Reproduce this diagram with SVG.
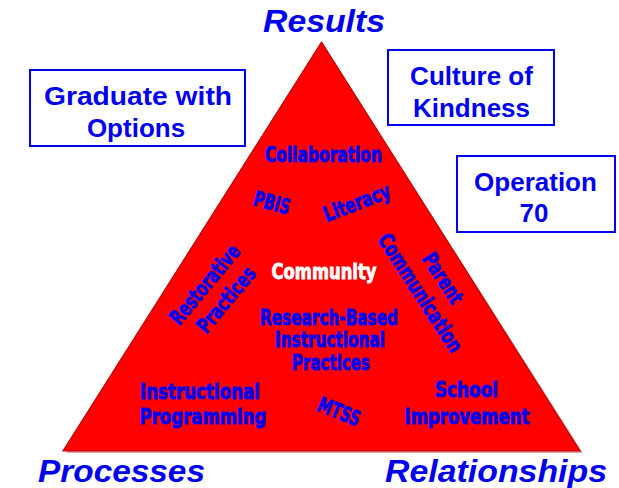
<svg xmlns="http://www.w3.org/2000/svg" width="619" height="488" viewBox="0 0 619 488">
<style>
.box{fill:#ffffff;stroke:#0000f0;stroke-width:2}
.bt{font-family:"Liberation Sans",Arial,sans-serif;font-weight:bold;font-size:26px;fill:#0000f0;text-anchor:middle}
.corner{font-family:"Liberation Sans",Arial,sans-serif;font-weight:bold;font-style:italic;font-size:31px;fill:#0000f0}
.in{font-family:"DejaVu Sans Condensed","Liberation Sans Narrow","Roboto Condensed",sans-serif;font-stretch:condensed;font-weight:bold;font-size:21px;fill:#0000f0;stroke:#0000f0;stroke-width:0.8;text-anchor:middle}
.wh{fill:#ffffff;stroke:#ffffff}
</style>
<rect width="619" height="488" fill="#ffffff"/>
<g id="triangle">
<polygon points="323,44 583,453 66,453" fill="#a00000" opacity="0.35"/>
<polygon points="321.5,42 580,451 63,451" fill="#ff0000" stroke="#c00000" stroke-width="1.2"/>
</g>
<g id="results"><text class="corner" x="324" y="32" text-anchor="middle" textLength="122" lengthAdjust="spacingAndGlyphs">Results</text></g>
<g id="processes"><text class="corner" x="38" y="482" textLength="167" lengthAdjust="spacingAndGlyphs">Processes</text></g>
<g id="relationships"><text class="corner" x="385" y="482" textLength="222" lengthAdjust="spacingAndGlyphs">Relationships</text></g>
<g id="graduate">
<rect class="box" x="30" y="70" width="215" height="76"/>
<text class="bt" x="138" y="105" textLength="188" lengthAdjust="spacingAndGlyphs">Graduate with</text>
<text class="bt" x="136" y="137">Options</text>
</g>
<g id="culture">
<rect class="box" x="388" y="50" width="166" height="75"/>
<text class="bt" x="471.5" y="85">Culture of</text>
<text class="bt" x="471.5" y="117">Kindness</text>
</g>
<g id="operation">
<rect class="box" x="457" y="156" width="158" height="76"/>
<text class="bt" x="535.5" y="191">Operation</text>
<text class="bt" x="534" y="222">70</text>
</g>
<g id="collaboration"><text class="in" x="323.5" y="162" textLength="117" lengthAdjust="spacingAndGlyphs">Collaboration</text></g>
<g id="pbis"><text class="in" transform="translate(272,203) rotate(15)" x="0" y="7" textLength="37" lengthAdjust="spacingAndGlyphs">PBIS</text></g>
<g id="literacy"><text class="in" transform="translate(357,203) rotate(-21)" x="0" y="7" textLength="70" lengthAdjust="spacingAndGlyphs">Literacy</text></g>
<g id="restorative" transform="translate(215,293) rotate(-50)">
<text class="in" x="0" y="-6" textLength="97" lengthAdjust="spacingAndGlyphs">Restorative</text>
<text class="in" x="2" y="20" textLength="79" lengthAdjust="spacingAndGlyphs">Practices</text>
</g>
<g id="parent" transform="translate(431,286) rotate(57)">
<text class="in" x="0" y="-7" textLength="56" lengthAdjust="spacingAndGlyphs">Parent</text>
<text class="in" x="0" y="20" textLength="137" lengthAdjust="spacingAndGlyphs">Communication</text>
</g>
<g id="community"><text class="in wh" x="324" y="279" textLength="105" lengthAdjust="spacingAndGlyphs">Community</text></g>
<g id="research">
<text class="in" x="329" y="325" textLength="138" lengthAdjust="spacingAndGlyphs">Research-Based</text>
<text class="in" x="330" y="347" textLength="110" lengthAdjust="spacingAndGlyphs">Instructional</text>
<text class="in" x="331" y="370" textLength="78" lengthAdjust="spacingAndGlyphs">Practices</text>
</g>
<g id="instructional">
<text class="in" x="200" y="399" textLength="120" lengthAdjust="spacingAndGlyphs">Instructional</text>
<text class="in" x="203" y="424" textLength="127" lengthAdjust="spacingAndGlyphs">Programming</text>
</g>
<g id="mtss"><text class="in" transform="translate(339,412) rotate(22)" x="0" y="7" textLength="44" lengthAdjust="spacingAndGlyphs">MTSS</text></g>
<g id="school">
<text class="in" x="466.5" y="397" textLength="63" lengthAdjust="spacingAndGlyphs">School</text>
<text class="in" x="467" y="424" textLength="125" lengthAdjust="spacingAndGlyphs">Improvement</text>
</g>
<g id="connectors"></g>
</svg>
